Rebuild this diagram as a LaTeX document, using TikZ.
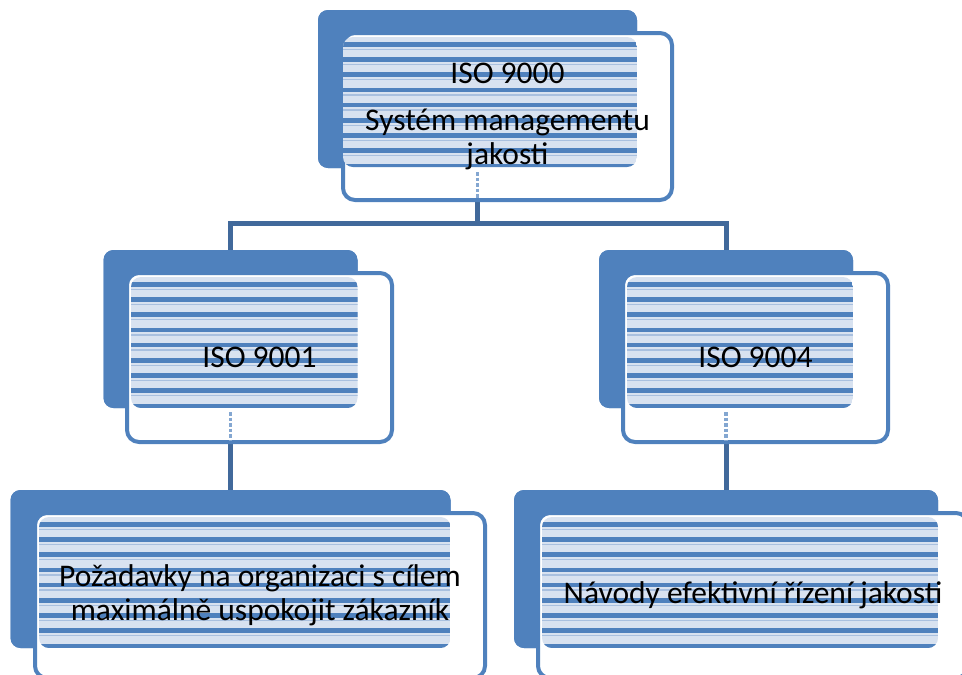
\documentclass[tikz,border=0pt]{standalone}
\usepackage{fontspec}
\setmainfont{Carlito}
\definecolor{ob}{HTML}{4F81BD}
\definecolor{cb}{HTML}{41699B}
\definecolor{lb}{HTML}{D8E2F0}
\definecolor{mb}{HTML}{A9C0DF}
\tikzset{
  backbox/.style={fill=ob, rounded corners=10pt, inner sep=0pt, draw=none},
  wbox/.style={draw=ob, line width=4pt, fill=white, rounded corners=12pt, inner sep=0pt},
  conn/.style={draw=cb, line width=5pt},
  stub/.style={draw=ob!70, line width=3.5pt, dotted},
  lbl/.style={font=\fontsize{31.5}{34}\selectfont, align=center, text=black, inner sep=0pt},
}
\newcommand\stripebox[4]{%
  \begin{scope}
    \clip[rounded corners=10pt] (#1,#2) rectangle (#3,#4);
    \fill[lb] (#1,#2) rectangle (#3,#4);
    \foreach \k in {0,...,9} {
      \fill[ob] (#1,#2+5+\k*15.2) rectangle (#3,#2+9.5+\k*15.2);
      \fill[mb] (#1,#2+11.5+\k*15.2) rectangle (#3,#2+13+\k*15.2);
    }
  \end{scope}}
\begin{document}
\begin{tikzpicture}[x=1pt,y=-1pt]
\useasboundingbox (0,0) rectangle (962,675);
% back boxes
\node[backbox, minimum width=319pt, minimum height=158pt] (b0) at (477.5,89) {};
\node[backbox, minimum width=254pt, minimum height=158pt] (b1) at (230.5,329) {};
\node[backbox, minimum width=254pt, minimum height=158pt] (b2) at (726,329) {};
\node[backbox, minimum width=440pt, minimum height=158pt] (b3) at (230.5,569) {};
\node[backbox, minimum width=424pt, minimum height=158pt] (b4) at (726,569) {};
% connectors
\draw[conn] (b0.south) -- ++(0,55.5) coordinate (h0) -| (b1.north);
\draw[conn] (h0) -| (b2.north);
\draw[conn] (b1.south) -- (b3.north);
\draw[conn] (b2.south) -- (b4.north);
% back boxes above connectors
\fill[ob, rounded corners=10pt] (318,10) rectangle (637,168);
\fill[ob, rounded corners=10pt] (103.5,250) rectangle (357.5,408);
\fill[ob, rounded corners=10pt] (599,250) rectangle (853,408);
\fill[ob, rounded corners=10pt] (10.5,490) rectangle (450.5,648);
\fill[ob, rounded corners=10pt] (514,490) rectangle (938,648);
% white outline boxes
\node[wbox, minimum width=329pt, minimum height=167pt] (w0) at (507.5,116.5) {};
\node[wbox, minimum width=265pt, minimum height=169pt] (w1) at (259.5,357.5) {};
\node[wbox, minimum width=265pt, minimum height=169pt] (w2) at (755.5,357.5) {};
\node[wbox, minimum width=450pt, minimum height=165pt] (w3) at (260,595.5) {};
\node[wbox, minimum width=430pt, minimum height=165pt] (w4) at (753,595.5) {};
% striped fills
\stripebox{343}{37}{637}{167}
\stripebox{131}{277}{357.5}{408}
\stripebox{627}{277}{853}{408}
\stripebox{39}{517}{450.5}{648}
\stripebox{542}{517}{938}{648}
% stubs of the connectors seen through the boxes
\draw[stub] ([yshift=-4pt]b0.south) -- ([yshift=4pt]w0.south -| b0.south);
\draw[stub] ([yshift=-4pt]b1.south) -- ([yshift=4pt]w1.south -| b1.south);
\draw[stub] ([yshift=-4pt]b2.south) -- ([yshift=4pt]w2.south -| b2.south);
% labels
\node[lbl] (t0) at (w0.center) {ISO 9000\\[13pt]Systém managementu\\jakosti};
\node[lbl] (t1) at (w1.center) {ISO 9001};
\node[lbl] (t2) at (w2.center) {ISO 9004};
\node[lbl] (t3) at (w3.center) {Požadavky na organizaci s cílem\\maximálně uspokojit zákazník};
\node[lbl] (t4) at (w4.center) {Návody efektivní řízení jakosti};
\end{tikzpicture}
\end{document}
